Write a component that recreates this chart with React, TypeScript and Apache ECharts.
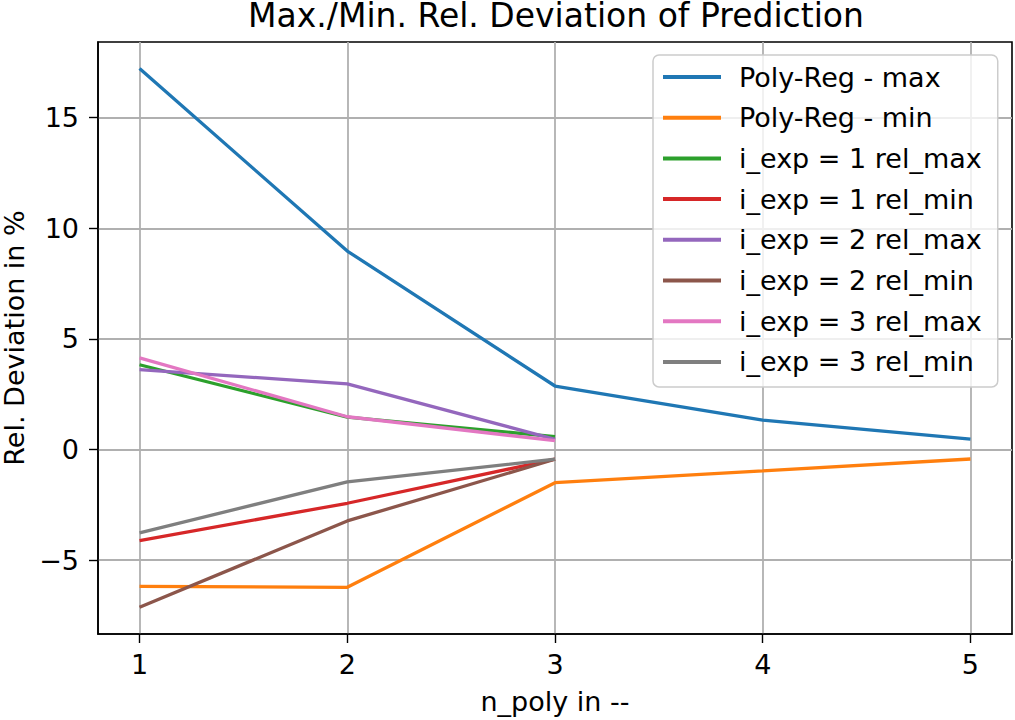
import React, { useEffect, useRef } from "react";
import * as echarts from "echarts";

const nPoly = [1, 2, 3, 4, 5];
const polyRegMax = [17.22, 8.97, 2.87, 1.33, 0.47];
const polyRegMin = [-6.19, -6.23, -1.5, -0.97, -0.43];
const exp1Max = [3.83, 1.46, 0.58];
const exp1Min = [-4.12, -2.43, -0.44];
const exp2Max = [3.61, 2.97, 0.46];
const exp2Min = [-7.13, -3.23, -0.44];
const exp3Max = [4.14, 1.48, 0.4];
const exp3Min = [-3.77, -1.46, -0.44];

const xTicks = [1, 2, 3, 4, 5];
const yTicks = [-5, 0, 5, 10, 15];

const seriesNames = [
  "Poly-Reg - max",
  "Poly-Reg - min",
  "i_exp = 1 rel_max",
  "i_exp = 1 rel_min",
  "i_exp = 2 rel_max",
  "i_exp = 2 rel_min",
  "i_exp = 3 rel_max",
  "i_exp = 3 rel_min",
];
const seriesValues = [polyRegMax, polyRegMin, exp1Max, exp1Min, exp2Max, exp2Min, exp3Max, exp3Min];
const colors = ["#1f77b4", "#ff7f0e", "#2ca02c", "#d62728", "#9467bd", "#8c564b", "#e377c2", "#7f7f7f"];

const FONT = "DejaVu Sans";
const TITLE = "Max./Min. Rel. Deviation of Prediction";

export default function App() {
  const ref = useRef<HTMLDivElement>(null);
  useEffect(() => {
    if (!ref.current) return;
    const chart = echarts.init(ref.current, null, { renderer: "svg" });
    const option: any = {
      animation: false,
      backgroundColor: "#fff",
      color: colors,
      graphic: [
        {
          type: "text",
          x: 556,
          y: 15,
          style: {
            text: TITLE,
            textAlign: "center",
            textVerticalAlign: "middle",
            fontFamily: FONT,
            fontSize: 33,
            lineHeight: 30,
            fill: "#000",
          },
        },
      ],
      grid: {
        left: 98,
        top: 42,
        width: 914,
        height: 592,
        show: true,
        borderColor: "#000",
        borderWidth: 1.6,
        backgroundColor: "transparent",
        containLabel: false,
        outerBoundsMode: "none",
      },
      legend: {
        orient: "vertical",
        left: 653,
        top: 55,
        padding: [7, 16, 10, 10],
        itemWidth: 58,
        itemHeight: 4,
        itemGap: 10.7,
        icon: "rect",
        backgroundColor: "rgba(255,255,255,0.8)",
        borderColor: "#cccccc",
        borderWidth: 1.5,
        borderRadius: 6,
        textStyle: { fontFamily: FONT, fontSize: 27, color: "#000", lineHeight: 30, padding: [0, 0, 0, 13] },
        data: seriesNames,
      },
      xAxis: {
        type: "value",
        min: 0.8,
        max: 5.2,
        name: "n_poly in --",
        nameLocation: "middle",
        nameGap: 54,
        nameTextStyle: { fontFamily: FONT, fontSize: 27, color: "#000" },
        axisLine: { show: true, onZero: false, lineStyle: { color: "#000", width: 1.6 } },
        axisTick: { show: true, length: 9, lineStyle: { color: "#000", width: 1.4 }, customValues: xTicks },
        axisLabel: { customValues: xTicks, margin: 17, fontFamily: FONT, fontSize: 27, color: "#000" },
        splitLine: { show: true, lineStyle: { color: "#b0b0b0", width: 1.8 } },
      },
      yAxis: {
        type: "value",
        min: -8.34,
        max: 18.42,
        name: "Rel. Deviation in %",
        nameLocation: "middle",
        nameGap: 70,
        nameTextStyle: { fontFamily: FONT, fontSize: 27, color: "#000" },
        axisLine: { show: true, onZero: false, lineStyle: { color: "#000", width: 1.6 } },
        axisTick: { show: true, length: 9, lineStyle: { color: "#000", width: 1.4 }, customValues: yTicks },
        axisLabel: {
          customValues: yTicks,
          margin: 19,
          fontFamily: FONT,
          fontSize: 27,
          color: "#000",
          formatter: (v: number) => (v < 0 ? "\u2212" + Math.abs(v) : String(v)),
        },
        splitLine: { show: true, lineStyle: { color: "#b0b0b0", width: 1.8 } },
      },
      series: seriesNames.map((name, i) => ({
        name,
        type: "line",
        data: seriesValues[i].map((v, j) => [nPoly[j], v]),
        showSymbol: false,
        symbol: "none",
        lineStyle: { width: 3.3, color: colors[i] },
        itemStyle: { color: colors[i] },
      })),
    };
    chart.setOption(option);
    return () => chart.dispose();
  }, []);
  return <div ref={ref} style={{ width: 1015, height: 720, position: "absolute", left: 0, top: 0 }} />;
}
